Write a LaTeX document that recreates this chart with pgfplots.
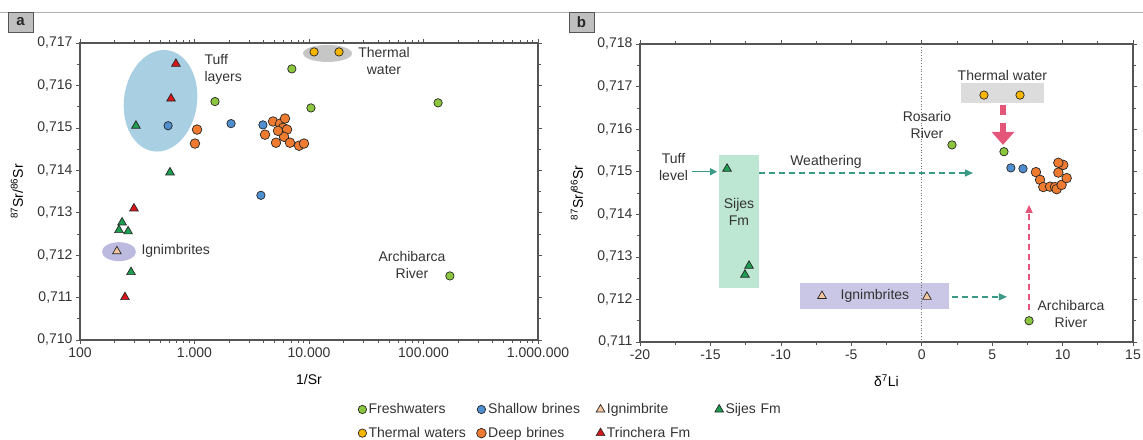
\documentclass[border=0pt]{standalone}
\usepackage{fontspec}
\setmainfont{Liberation Sans}
\usepackage{pgfplots}
\pgfplotsset{compat=1.18}
\usetikzlibrary{shapes.geometric,arrows.meta}

\definecolor{fresh}{HTML}{8CC63F}
\definecolor{shallow}{HTML}{4F8FD0}
\definecolor{thermal}{HTML}{F7B500}
\definecolor{deep}{HTML}{EE7B30}
\definecolor{ign}{HTML}{F3C6A0}
\definecolor{sijes}{HTML}{1E9E50}
\definecolor{trin}{HTML}{D9161C}
\definecolor{axgray}{HTML}{555555}
\definecolor{txt}{HTML}{333333}
\definecolor{tuffbl}{HTML}{A9CFE2}
\definecolor{thgray}{HTML}{C6C6C6}
\definecolor{ignpur}{HTML}{BDBAE0}
\definecolor{boxgray}{HTML}{DCDCDC}
\definecolor{boxpur}{HTML}{CAC7E6}
\definecolor{sijbox}{HTML}{BDE6D3}
\definecolor{arrteal}{HTML}{3A9A86}
\definecolor{pinkarr}{HTML}{E4557A}

\pgfplotsset{
  common/.style={
    scale only axis,
    axis line style={axgray, line width=1.1pt},
    tick style={axgray, line width=0.7pt},
    tick align=outside,
    major tick length=4pt,
    minor tick length=3pt,
    tick label style={text=txt, font=\fontsize{14}{16}\selectfont},
    label style={text=txt, font=\fontsize{14}{16}\selectfont},
    every axis y label/.style={at={(axis description cs:0,0.5)}, xshift=-63pt, rotate=90, anchor=center},
    every axis x label/.style={at={(axis description cs:0.5,0)}, yshift=-39pt, anchor=center},
    ylabel={\textsuperscript{87}Sr/\textsuperscript{86}Sr},
  },
  mk/.style={only marks, mark options={draw=black!85, line width=0.7pt, fill=#1},
    legend image code/.code={\draw[##1] plot coordinates {(0pt,0pt)};}},
  fr/.style={mk=fresh, mark=*, mark size=4.2pt},
  sh/.style={mk=shallow, mark=*, mark size=4.2pt},
  th/.style={mk=thermal, mark=*, mark size=4.2pt},
  dp/.style={mk=deep, mark=*, mark size=4.8pt},
  ig/.style={mk=ign, mark=triangle*, mark size=5pt},
  sj/.style={mk=sijes, mark=triangle*, mark size=5pt},
  tr/.style={mk=trin, mark=triangle*, mark size=5pt},
}

\begin{document}
\begin{tikzpicture}[font=\fontsize{14}{17}\selectfont]
\useasboundingbox (0,0) rectangle (1143pt,439pt);
\draw[black!30, line width=0.8pt] (0,427pt) -- (1143pt,427pt);
\draw[axgray, fill=black!25, line width=0.8pt] (8pt,407pt) rectangle (33pt,427pt);
\node[font=\fontsize{15}{17}\selectfont\bfseries, text=black!85] at (20.5pt,417pt) {a};
\draw[axgray, fill=black!25, line width=0.8pt] (569pt,407pt) rectangle (594pt,427pt);
\node[font=\fontsize{15}{17}\selectfont\bfseries, text=black!85] at (581.5pt,417pt) {b};

% ---------------- panel a ----------------
\begin{axis}[common, xmode=log,
  at={(80pt,99pt)}, anchor=south west, width=458pt, height=297pt,
  xmin=100, xmax=1000000, ymin=0.710, ymax=0.717,
  xtick={100,1000,10000,100000,1000000},
  xticklabels={100,1.000,10.000,100.000,1.000.000},
  minor xtick={200,300,400,500,600,700,800,900,2000,3000,4000,5000,6000,7000,8000,9000,20000,30000,40000,50000,60000,70000,80000,90000,200000,300000,400000,500000,600000,700000,800000,900000},
  ytick={0.710,0.711,0.712,0.713,0.714,0.715,0.716,0.717},
  yticklabels={{0,710},{0,711},{0,712},{0,713},{0,714},{0,715},{0,716},{0,717}},
  minor ytick={0.7105,0.7115,0.7125,0.7135,0.7145,0.7155,0.7165},
  xlabel={1/Sr},
  legend columns=4,
  legend style={at={(axis description cs:0.607,-0.207)}, anchor=north west, draw=none, fill=none, inner sep=0pt, row sep=8pt,
    nodes={text width=106pt, align=left, inner sep=2pt, text=txt, font=\fontsize{14}{16}\selectfont}},
]
\node[ellipse, fill=tuffbl, minimum width=73pt, minimum height=102pt, inner sep=0pt, rotate=-8] at (axis cs:505,0.715638) {};
\node[ellipse, fill=thgray, minimum width=49pt, minimum height=17pt, inner sep=0pt] at (axis cs:14510,0.716754) {};
\node[ellipse, fill=ignpur, minimum width=34pt, minimum height=19pt, inner sep=0pt] at (axis cs:219,0.712082) {};

\addplot[fr] coordinates {(1510,0.71562) (7080,0.71639) (10400,0.71547) (134000,0.71559) (170000,0.71151)};
\addlegendentry{Freshwaters}
\addplot[sh] coordinates {(588,0.71505) (2085,0.71510) (3960,0.71507) (3800,0.71341)};
\addlegendentry{Shallow brines}
\addplot[ig] coordinates {(210,0.71209)};
\addlegendentry{Ignimbrite}
\addplot[sj] coordinates {(308,0.71505) (611,0.71395) (233,0.71277) (219,0.71259) (263,0.71256) (279,0.71160)};
\addlegendentry{Sijes Fm}
\addplot[th] coordinates {(11070,0.71679) (18280,0.71679)};
\addlegendentry{Thermal waters}
\addplot[dp] coordinates {(1052,0.71496) (1009,0.71463) (4130,0.71484) (4850,0.71515) (5590,0.71510) (6170,0.71522) (5930,0.71500) (6430,0.71496) (6050,0.71479) (5150,0.71465) (6820,0.71465) (8180,0.71458) (9040,0.71463) (5360,0.71493)};
\addlegendentry{Deep brines}
\addplot[tr] coordinates {(688,0.71651) (624,0.71569) (296,0.71310) (247,0.71101)};
\addlegendentry{Trinchera Fm}

\node[anchor=west, align=left, text=txt] at (axis cs:1140,0.71637) {Tuff\\layers};
\node[align=center, text=txt] at (axis cs:45190,0.716566) {Thermal\\water};
\node[anchor=west, text=txt] at (axis cs:321,0.71209) {Ignimbrites};
\node[align=center, text=txt] at (axis cs:79350,0.71177) {Archibarca\\River};
\end{axis}

% ---------------- panel b ----------------
\begin{axis}[common,
  at={(640pt,97pt)}, anchor=south west, width=493pt, height=298pt,
  xmin=-20, xmax=15, ymin=0.711, ymax=0.718,
  xtick={-20,-15,-10,-5,0,5,10,15},
  xticklabels={-20,-15,-10,-5,0,5,10,15},
  minor xtick={-17.5,-12.5,-7.5,-2.5,2.5,7.5,12.5},
  ytick={0.711,0.712,0.713,0.714,0.715,0.716,0.717,0.718},
  yticklabels={{0,711},{0,712},{0,713},{0,714},{0,715},{0,716},{0,717},{0,718}},
  minor ytick={0.7115,0.7125,0.7135,0.7145,0.7155,0.7165,0.7175},
  xlabel={δ\textsuperscript{7}Li},
]
\fill[boxgray] (axis cs:2.79,0.71708) rectangle (axis cs:8.68,0.71661);
\fill[boxpur] (axis cs:-8.64,0.71239) rectangle (axis cs:1.94,0.71178);
\fill[sijbox] (axis cs:-14.39,0.71539) rectangle (axis cs:-11.55,0.71227);
\draw[black!55, dotted, line width=0.7pt] (axis cs:0,0.711) -- (axis cs:0,0.718);

\draw[arrteal, line width=1.5pt, -{Triangle[length=7pt,width=7pt]}] (axis cs:-16.31,0.71500) -- (axis cs:-14.53,0.71500);
\draw[arrteal, line width=1.3pt, dash pattern=on 6pt off 4pt, -{Triangle[length=8pt,width=7pt]}] (axis cs:-11.55,0.71497) -- (axis cs:3.64,0.71497);
\draw[arrteal, line width=1.3pt, dash pattern=on 6pt off 4pt, -{Triangle[length=8pt,width=7pt]}] (axis cs:2.15,0.71206) -- (axis cs:6.05,0.71206);
\draw[pinkarr, line width=1.5pt, dash pattern=on 6pt off 4pt, -{Triangle[length=8pt,width=7pt]}] (axis cs:7.62,0.71176) -- (axis cs:7.62,0.71422);
\draw[pinkarr, line width=6pt] (axis cs:5.77,0.71657) -- (axis cs:5.77,0.71633);
\draw[pinkarr, line width=6pt, -{Triangle[length=13pt,width=22pt]}] (axis cs:5.77,0.71615) -- (axis cs:5.77,0.71563);

\addplot[fr] coordinates {(2.15,0.71563) (5.84,0.71547) (7.62,0.71150)};
\addplot[sh] coordinates {(6.33,0.71509) (7.19,0.71507)};
\addplot[ig] coordinates {(-7.08,0.71208) (0.37,0.71206)};
\addplot[sj] coordinates {(-13.82,0.71507) (-12.26,0.71279) (-12.55,0.71258)};
\addplot[th] coordinates {(4.42,0.71680) (6.98,0.71680)};
\addplot[dp] coordinates {(8.11,0.71499) (8.40,0.71481) (8.63,0.71464) (9.11,0.71465) (9.46,0.71464) (9.58,0.71459) (9.93,0.71469) (10.29,0.71485) (9.70,0.71498) (10.05,0.71516) (9.70,0.71521)};

\node[text=txt] at (axis cs:5.73,0.71725) {Thermal water};
\node[align=center, text=txt] at (axis cs:0.375,0.71610) {Rosario\\River};
\node[align=center, text=txt] at (axis cs:-17.62,0.71510) {Tuff\\level};
\node[text=txt] at (axis cs:-6.80,0.71523) {Weathering};
\node[align=center, text=txt] at (axis cs:-12.97,0.71406) {Sijes\\Fm};
\node[text=txt] at (axis cs:-3.32,0.71208) {Ignimbrites};
\node[align=center, text=txt] at (axis cs:10.60,0.71166) {Archibarca\\River};
\end{axis}
\end{tikzpicture}
\end{document}
